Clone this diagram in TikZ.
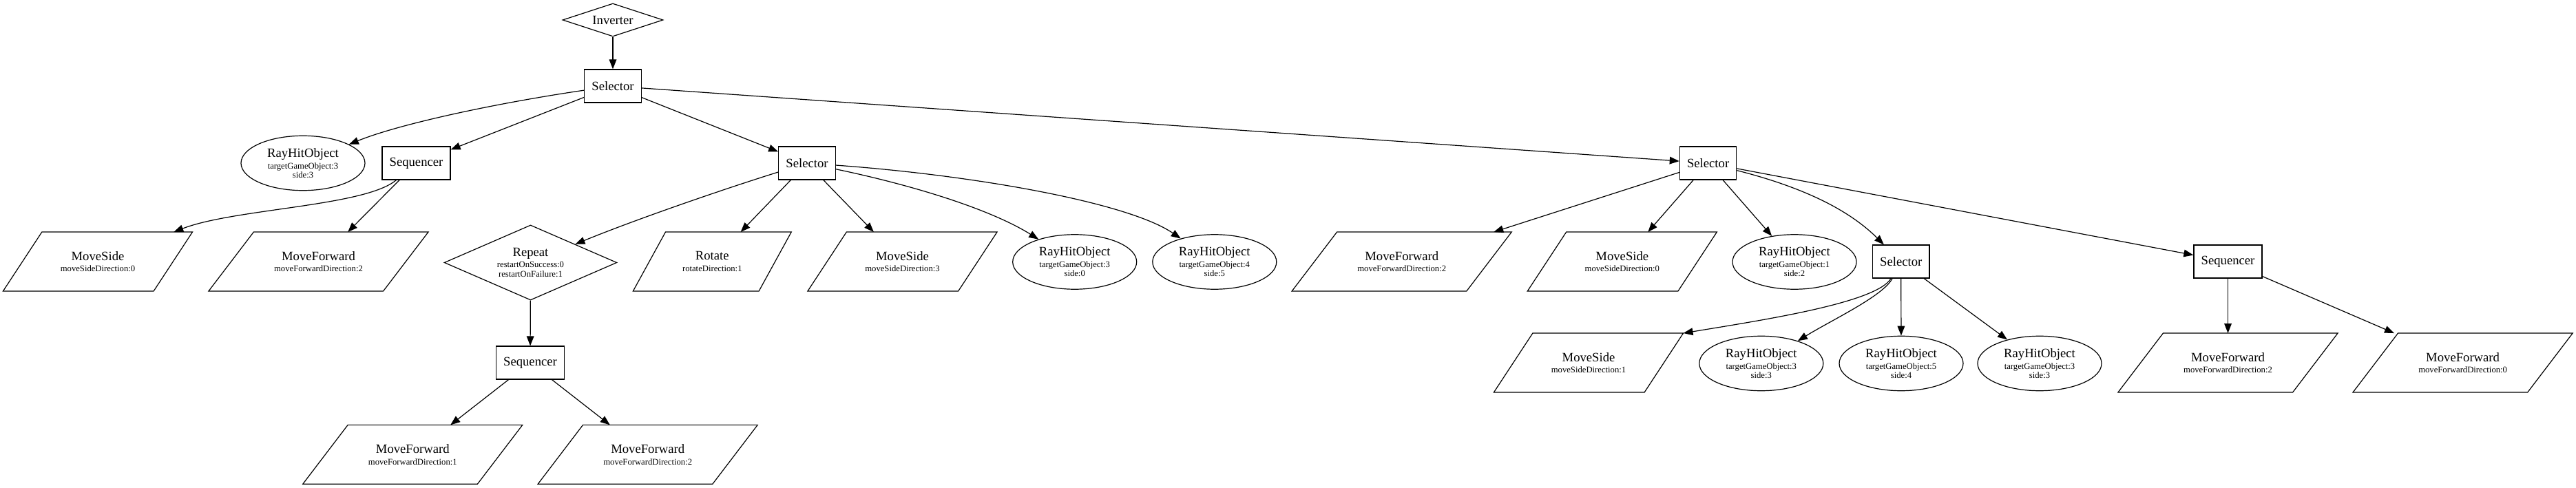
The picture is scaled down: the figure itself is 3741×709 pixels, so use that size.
\documentclass[tikz,border=0pt]{standalone}
\usepackage{fontspec}
\setmainfont{Liberation Serif}
\usetikzlibrary{arrows.meta, shapes.geometric, calc}
\newcommand{\attrline}[1]{{\fontsize{9.5}{10}\selectfont #1}}
\begin{document}
\begin{tikzpicture}[x = 0.75pt, y = -0.75pt,
    every node/.style = {font = \fontsize{14}{10}\selectfont, align = center},
    composite/.style = {draw, line width = 0.9pt, rectangle, minimum height = 36pt,
      inner xsep = 8pt, inner ysep = 0pt},
    decorator/.style 2 args = {draw, line width = 0.9pt, diamond, inner sep = 0pt,
      shape aspect = 2.3, minimum width = #1, minimum height = #2},
    condition/.style = {draw, line width = 0.9pt, ellipse, inner sep = 0pt,
      minimum width = 135pt, minimum height = 59.6pt},
    action/.style = {rectangle, inner sep = 0pt, minimum width = #1, minimum height = 64pt,
      append after command = {\pgfextra{\draw[line width = 0.9pt]
        (\tikzlastnode.south west)
        -- ($(\tikzlastnode.north west)!0.205!(\tikzlastnode.north east)$)
        -- (\tikzlastnode.north east)
        -- ($(\tikzlastnode.south east)!0.205!(\tikzlastnode.south west)$)
        -- cycle;}}},
    link/.style = {line width = 0.9pt, -{Triangle[length = 10.5pt, width = 8pt]}}]
      \useasboundingbox (0, 0) rectangle (3741, 709);
      % root
      \node[decorator = {109.5pt}{36pt}] (inv) at (890, 29) {Inverter};
      \node[composite] (sel0) at (890, 125) {Selector};
      % second rank
      \node[condition] (ray0) at (440, 237)
        {RayHitObject\\[2.5pt]\attrline{targetGameObject:3}\\\attrline{side:3}};
      \node[composite] (seq1) at (604.5, 237) {Sequencer};
      \node[composite] (sel1) at (1172, 237) {Selector};
      \node[composite] (sel2) at (2480.6, 237) {Selector};
      % third rank
      \node[action = 205.9pt] (mside0) at (142, 380)
        {MoveSide\\[2.5pt]\attrline{moveSideDirection:0}};
      \node[action = 238.9pt] (mfwd0) at (462.5, 380)
        {MoveForward\\[2.5pt]\attrline{moveForwardDirection:2}};
      \node[decorator = {188pt}{81.8pt}] (rep) at (770.5, 381.5)
        {Repeat\\[2pt]\attrline{restartOnSuccess:0}\\\attrline{restartOnFailure:1}};
      \node[action = 172pt] (rot) at (1034.3, 380)
        {Rotate\\[2.5pt]\attrline{rotateDirection:1}};
      \node[action = 205.9pt] (mside3) at (1310.5, 380)
        {MoveSide\\[2.5pt]\attrline{moveSideDirection:3}};
      \node[condition] (ray1) at (1560.7, 380.5)
        {RayHitObject\\[2.5pt]\attrline{targetGameObject:3}\\\attrline{side:0}};
      \node[condition] (ray2) at (1763.8, 380.5)
        {RayHitObject\\[2.5pt]\attrline{targetGameObject:4}\\\attrline{side:5}};
      \node[action = 238.9pt] (mfwd1) at (2035.7, 380)
        {MoveForward\\[2.5pt]\attrline{moveForwardDirection:2}};
      \node[action = 205.9pt] (mside4) at (2355.8, 380)
        {MoveSide\\[2.5pt]\attrline{moveSideDirection:0}};
      \node[condition] (ray3) at (2606, 380.5)
        {RayHitObject\\[2.5pt]\attrline{targetGameObject:1}\\\attrline{side:2}};
      \node[composite] (sel3) at (2760.7, 380) {Selector};
      \node[composite] (seq2) at (3235.5, 380) {Sequencer};
      % fourth rank
      \node[composite] (seq3) at (770, 527) {Sequencer};
      \node[action = 205.9pt] (mside1) at (2307, 527)
        {MoveSide\\[2.5pt]\attrline{moveSideDirection:1}};
      \node[condition] (ray4) at (2557.8, 528)
        {RayHitObject\\[2.5pt]\attrline{targetGameObject:3}\\\attrline{side:3}};
      \node[condition] (ray5) at (2761, 528)
        {RayHitObject\\[2.5pt]\attrline{targetGameObject:5}\\\attrline{side:4}};
      \node[condition] (ray6) at (2962, 528)
        {RayHitObject\\[2.5pt]\attrline{targetGameObject:3}\\\attrline{side:3}};
      \node[action = 238.9pt] (mfwd2) at (3235.5, 527)
        {MoveForward\\[2.5pt]\attrline{moveForwardDirection:2}};
      \node[action = 238.9pt] (mfwd3) at (3576.6, 527)
        {MoveForward\\[2.5pt]\attrline{moveForwardDirection:0}};
      % fifth rank
      \node[action = 238.9pt] (mfwd4) at (599.3, 660.3)
        {MoveForward\\[2.5pt]\attrline{moveForwardDirection:1}};
      \node[action = 238.9pt] (mfwd5) at (940.7, 660.3)
        {MoveForward\\[2.5pt]\attrline{moveForwardDirection:2}};
      % edges
      \draw[link] (inv) -- (sel0);
      \draw[link] (sel0) .. controls (720, 150) and (580, 180) .. (ray0);
      \draw[link] (sel0) -- (seq1);
      \draw[link] (sel0) -- (sel1);
      \draw[link] (sel0) -- (sel2);
      \draw[link] (seq1) .. controls (530, 300) and (340, 303) .. (mside0);
      \draw[link] (seq1) -- (mfwd0);
      \draw[link] (sel1) .. controls (1050, 275) and (920, 320) .. (rep);
      \draw[link] (sel1) -- (rot);
      \draw[link] (sel1) -- (mside3);
      \draw[link] (sel1) .. controls (1330, 270) and (1440, 305) .. (ray1);
      \draw[link] (sel1) .. controls (1420, 255) and (1640, 295) .. (ray2);
      \draw[link] (rep) -- (seq3);
      \draw[link] (seq3) -- (mfwd4);
      \draw[link] (seq3) -- (mfwd5);
      \draw[link] (sel2) -- (mfwd1);
      \draw[link] (sel2) -- (mside4);
      \draw[link] (sel2) -- (ray3);
      \draw[link] (sel2) .. controls (2630, 275) and (2690, 310) .. (sel3);
      \draw[link] (sel2) -- (seq2);
      \draw[link] (sel3) .. controls (2725, 440) and (2560, 465) .. (mside1.north east);
      \draw[link] (sel3) .. controls (2735, 430) and (2660, 465) .. (ray4);
      \draw[link] (sel3) -- (ray5);
      \draw[link] (sel3) -- (ray6);
      \draw[link] (seq2) -- (mfwd2);
      \draw[link] (seq2) -- (mfwd3);
\end{tikzpicture}
\end{document}
